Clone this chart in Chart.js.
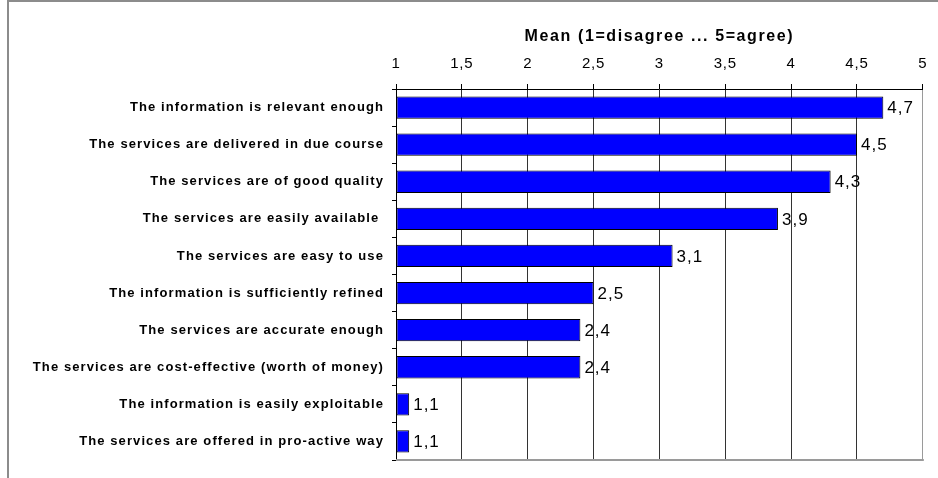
<!DOCTYPE html>
<html>
<head>
<meta charset="utf-8">
<script src="https://cdn.jsdelivr.net/npm/chart.js@4.4.1/dist/chart.umd.min.js"></script>
<style>
  html, body { margin: 0; padding: 0; background: #fff; }
  #wrap { position: relative; width: 938px; height: 478px; }
  #frame {
    position: absolute; left: 7px; top: 0; width: 940px; height: 490px;
    border-left: 2px solid #8c8c8c; border-top: 2px solid #8c8c8c;
  }
  canvas { position: absolute; left: 0; top: 0; }
</style>
</head>
<body>
<div id="wrap">
  <div id="frame"></div>
  <canvas id="meanChart" width="938" height="478"></canvas>
</div>
<script>
// Survey statements and their mean scores
const categories = [
  "The information is relevant enough",
  "The services are delivered in due course",
  "The services are of good quality",
  "The services are easily available ",
  "The services are easy to use",
  "The information is sufficiently refined",
  "The services are accurate enough",
  "The services are cost-effective (worth of money)",
  "The information is easily exploitable",
  "The services are offered in pro-active way",
];
const means = [4.7, 4.5, 4.3, 3.9, 3.1, 2.5, 2.4, 2.4, 1.1, 1.1];
const xTicks = [1, 1.5, 2, 2.5, 3, 3.5, 4, 4.5, 5];

const FONT = "'Liberation Sans', Arial, sans-serif";
const comma = (v) => String(v).replace(".", ",");

// run a scale's draw method with wider letter spacing
function spaced(chart, scale, method, spacing) {
  const orig = scale[method].bind(scale);
  scale[method] = (...args) => {
    chart.ctx.save();
    chart.ctx.letterSpacing = spacing;
    orig(...args);
    chart.ctx.restore();
  };
}

const spacing = {
  id: "spacing",
  afterLayout(chart) {
    if (chart._spaced) return;
    chart._spaced = true;
    spaced(chart, chart.scales.y, "drawLabels", "1.1px");
    spaced(chart, chart.scales.x, "drawLabels", "0.8px");
    spaced(chart, chart.scales.x, "drawTitle", "1.6px");
  },
};

// value labels right of each bar + grey bottom edge of the plot
const barLabels = {
  id: "barLabels",
  afterDatasetsDraw(chart) {
    const ctx = chart.ctx;
    const meta = chart.getDatasetMeta(0);
    ctx.save();
    ctx.font = "17px " + FONT;
    ctx.letterSpacing = "1px";
    ctx.fillStyle = "#000";
    ctx.textAlign = "left";
    ctx.textBaseline = "middle";
    meta.data.forEach((bar, i) => {
      ctx.fillText(comma(means[i]), bar.x + 4, bar.y + 1);
    });
    ctx.restore();
  },
  afterDraw(chart) {
    const { ctx, chartArea } = chart;
    ctx.save();
    ctx.strokeStyle = "#9a9a9a";
    ctx.lineWidth = 2;
    ctx.beginPath();
    ctx.moveTo(chartArea.left, chartArea.bottom);
    ctx.lineTo(chartArea.right + 1, chartArea.bottom);
    ctx.stroke();
    ctx.restore();
  },
};

new Chart(document.getElementById("meanChart"), {
  type: "bar",
  data: {
    labels: categories,
    datasets: [
      {
        data: means,
        base: 1,
        backgroundColor: "#0000ff",
        borderColor: "#000",
        borderWidth: 1,
        borderSkipped: false,
        barPercentage: 0.6,
        categoryPercentage: 1,
      },
    ],
  },
  options: {
    indexAxis: "y",
    responsive: false,
    animation: false,
    layout: { padding: { top: 27, right: 13, bottom: 18, left: 0 } },
    plugins: { legend: { display: false }, tooltip: { enabled: false } },
    scales: {
      x: {
        position: "top",
        min: 1,
        max: 5,
        afterBuildTicks: (scale) => {
          scale.ticks = xTicks.map((v) => ({ value: v }));
        },
        afterFit: (scale) => {
          scale.height = 62;
        },
        ticks: {
          padding: 11,
          color: "#000",
          font: { family: FONT, size: 15 },
          callback: (v) => comma(v),
          maxRotation: 0,
        },
        grid: {
          color: (c) => (c.index === xTicks.length - 1 ? "#9a9a9a" : "#333"),
          lineWidth: 1,
          tickLength: 5,
          tickColor: "#000",
        },
        border: { color: "#000", width: 1 },
        title: {
          display: true,
          text: "Mean (1=disagree ... 5=agree)",
          color: "#000",
          font: { family: FONT, size: 16, weight: "bold" },
          padding: { top: 0, bottom: 8 },
        },
      },
      y: {
        afterFit: (scale) => {
          scale.width = 396;
        },
        ticks: {
          padding: 8,
          color: "#000",
          font: { family: FONT, size: 13, weight: "bold" },
        },
        grid: {
          offset: true,
          drawOnChartArea: false,
          tickLength: 4,
          color: "#000",
        },
        border: { color: "#000", width: 1 },
      },
    },
  },
  plugins: [spacing, barLabels],
});
</script>
</body>
</html>
